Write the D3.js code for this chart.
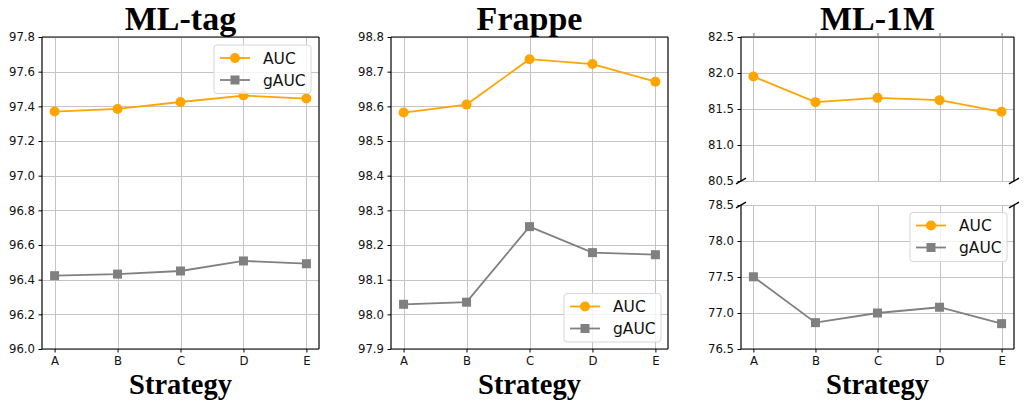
<!DOCTYPE html>
<html><head><meta charset="utf-8">
<script src="https://cdn.jsdelivr.net/npm/d3@7"></script>
<style>body{margin:0;background:#fff}svg{display:block}</style>
</head><body>
<svg id="c" width="1024" height="404"></svg>
<script>
const categories = ['A','B','C','D','E'];
const seriesNames = ['AUC','gAUC'];
const mltagAUC  = [97.370, 97.385, 97.425, 97.462, 97.445];
const mltagGAUC = [96.423, 96.432, 96.450, 96.508, 96.492];
const frappeAUC  = [98.582, 98.605, 98.736, 98.722, 98.671];
const frappeGAUC = [98.029, 98.035, 98.253, 98.178, 98.172];
const ml1mAUC  = [81.951, 81.595, 81.655, 81.623, 81.461];
const ml1mGAUC = [77.503, 76.866, 77.000, 77.080, 76.852];
const mltagTicks  = [96.0,96.2,96.4,96.6,96.8,97.0,97.2,97.4,97.6,97.8];
const frappeTicks = [97.9,98.0,98.1,98.2,98.3,98.4,98.5,98.6,98.7,98.8];
const ml1mTopTicks = [80.5,81.0,81.5,82.0,82.5];
const ml1mBotTicks = [76.5,77.0,77.5,78.0,78.5];
const titles = ['ML-tag','Frappe','ML-1M'];
const xTitle = 'Strategy';

const COL = {AUC:'#FFA500', gAUC:'#808080'};
const svg = d3.select('#c');
const TICKFONT = 'DejaVu Sans, sans-serif';
let clipId = 0;

function drawAxes(opt){
  const g = svg.append('g');
  const xl = d3.scaleLinear().domain([-0.2, 4.2]).range([opt.left, opt.right]);
  const xp = c => xl(categories.indexOf(c));
  const y = d3.scaleLinear().domain(opt.domain).range([opt.bottom, opt.top]);
  // grid
  const grid = g.append('g').attr('stroke','#c4c4c4').attr('stroke-width',1);
  opt.ticks.forEach(t=>{
    grid.append('line').attr('x1',opt.left).attr('x2',opt.right)
      .attr('y1',Math.round(y(t))+0.5).attr('y2',Math.round(y(t))+0.5);
  });
  categories.forEach(c=>{
    grid.append('line').attr('x1',Math.round(xp(c))+0.5).attr('x2',Math.round(xp(c))+0.5)
      .attr('y1',opt.top).attr('y2',opt.bottom);
  });
  // clip
  const id = 'clip'+(clipId++);
  svg.append('clipPath').attr('id',id).append('rect')
    .attr('x',opt.left).attr('y',opt.top).attr('width',opt.right-opt.left).attr('height',opt.bottom-opt.top);
  const data = g.append('g').attr('clip-path',`url(#${id})`);
  opt.series.forEach(s=>{
    const line = d3.line().x((d,i)=>xp(categories[i])).y(d=>y(d));
    data.append('path').datum(s.values).attr('d',line).attr('fill','none')
      .attr('stroke',COL[s.name]).attr('stroke-width',1.8);
    s.values.forEach((v,i)=>{
      if(s.name==='AUC'){
        data.append('circle').attr('cx',xp(categories[i])).attr('cy',y(v)).attr('r',5).attr('fill',COL.AUC);
      } else {
        data.append('rect').attr('x',xp(categories[i])-4.5).attr('y',y(v)-4.5)
          .attr('width',9).attr('height',9).attr('fill',COL.gAUC);
      }
    });
  });
  // spines
  const sp = g.append('g').attr('stroke','#000').attr('stroke-width',1.2).attr('fill','none');
  sp.append('line').attr('x1',opt.left).attr('x2',opt.left).attr('y1',opt.top).attr('y2',opt.bottom);
  sp.append('line').attr('x1',opt.right).attr('x2',opt.right).attr('y1',opt.top).attr('y2',opt.bottom);
  if(opt.spines.top) sp.append('line').attr('x1',opt.left).attr('x2',opt.right).attr('y1',opt.top).attr('y2',opt.top);
  if(opt.spines.bottom) sp.append('line').attr('x1',opt.left).attr('x2',opt.right).attr('y1',opt.bottom).attr('y2',opt.bottom);
  // y axis
  const ya = d3.axisLeft(y).tickValues(opt.ticks).tickSize(3.5).tickPadding(3.5).tickFormat(d3.format('.1f'));
  const yg = g.append('g').attr('transform',`translate(${opt.left},0)`).call(ya);
  yg.select('.domain').remove();
  yg.selectAll('text').attr('font-family',TICKFONT).attr('font-size','11.7px').attr('fill','#111');
  yg.selectAll('line').attr('stroke','#000').attr('stroke-width',1);
  // x ticks
  if(opt.xticks==='bottom'){
    const xa = d3.axisBottom(xl).tickValues(d3.range(categories.length)).tickSize(3.5).tickPadding(4.5)
      .tickFormat(i=>categories[i]);
    const xg = g.append('g').attr('transform',`translate(0,${opt.bottom})`).call(xa);
    xg.select('.domain').remove();
    xg.selectAll('text').attr('font-family',TICKFONT).attr('font-size','11.7px').attr('fill','#111');
    xg.selectAll('line').attr('stroke','#000');
  } else if(opt.xticks==='top'){
    const xa = d3.axisTop(xl).tickValues(d3.range(categories.length)).tickSize(4).tickFormat('');
    const xg = g.append('g').attr('transform',`translate(0,${opt.top})`).call(xa);
    xg.select('.domain').remove();
    xg.selectAll('line').attr('stroke','#777');
  }
  return {x:xl, y, g};
}

function legend(x0,y0,w,h){
  const g = svg.append('g');
  g.append('rect').attr('x',x0).attr('y',y0).attr('width',w).attr('height',h).attr('rx',3)
    .attr('fill','#fff').attr('fill-opacity',0.8).attr('stroke','#d6d6d6').attr('stroke-width',1);
  seriesNames.forEach((n,i)=>{
    const yy = y0 + 13 + i*22;
    g.append('line').attr('x1',x0+6).attr('x2',x0+36).attr('y1',yy).attr('y2',yy)
      .attr('stroke',COL[n]).attr('stroke-width',1.8);
    if(n==='AUC') g.append('circle').attr('cx',x0+21).attr('cy',yy).attr('r',5).attr('fill',COL[n]);
    else g.append('rect').attr('x',x0+16.5).attr('y',yy-4.5).attr('width',9).attr('height',9).attr('fill',COL[n]);
    g.append('text').attr('x',x0+49).attr('y',yy).attr('dy','0.36em')
      .attr('font-family',TICKFONT).attr('font-size','15.5px').attr('fill','#111').text(n);
  });
}

function title(cx, t){
  svg.append('text').attr('x',cx).attr('y',29.5).attr('text-anchor','middle')
    .attr('font-family','Liberation Serif, Times New Roman, serif').attr('font-weight','bold')
    .attr('font-size','34px').attr('fill','#000').text(t);
}
function xlabel(cx){
  svg.append('text').attr('x',cx).attr('y',394).attr('text-anchor','middle')
    .attr('font-family','Liberation Serif, Times New Roman, serif').attr('font-weight','bold')
    .attr('font-size','28.5px').attr('fill','#000').text(xTitle);
}

// Panel 1
drawAxes({left:42,right:319,top:37,bottom:349,domain:[96.0,97.8],ticks:mltagTicks,
  spines:{top:true,bottom:true},xticks:'bottom',
  series:[{name:'AUC',values:mltagAUC},{name:'gAUC',values:mltagGAUC}]});
legend(214,45,97,48.5);
title(180.5,titles[0]); xlabel(180.5);

// Panel 2
drawAxes({left:391,right:668,top:37,bottom:349,domain:[97.9,98.8],ticks:frappeTicks,
  spines:{top:true,bottom:true},xticks:'bottom',
  series:[{name:'AUC',values:frappeAUC},{name:'gAUC',values:frappeGAUC}]});
legend(564,293.5,97,48.5);
title(529.5,titles[1]); xlabel(529.5);

// Panel 3 (broken axis)
drawAxes({left:741,right:1014,top:37,bottom:181,domain:[80.5,82.5],ticks:ml1mTopTicks,
  spines:{top:true,bottom:false},xticks:'top',
  series:[{name:'AUC',values:ml1mAUC},{name:'gAUC',values:ml1mGAUC}]});
drawAxes({left:741,right:1014,top:205,bottom:349,domain:[76.5,78.5],ticks:ml1mBotTicks,
  spines:{top:false,bottom:true},xticks:'bottom',
  series:[{name:'AUC',values:ml1mAUC},{name:'gAUC',values:ml1mGAUC}]});
// break marks
[[741,181],[1014,181],[741,205],[1014,205]].forEach(([bx,by])=>{
  svg.append('line').attr('x1',bx-5).attr('y1',by+2.8).attr('x2',bx+5).attr('y2',by-2.8)
    .attr('stroke','#000').attr('stroke-width',1.4);
});
legend(910,212.5,97,49);
title(877.5,titles[2]); xlabel(877.5);
</script>
</body></html>
